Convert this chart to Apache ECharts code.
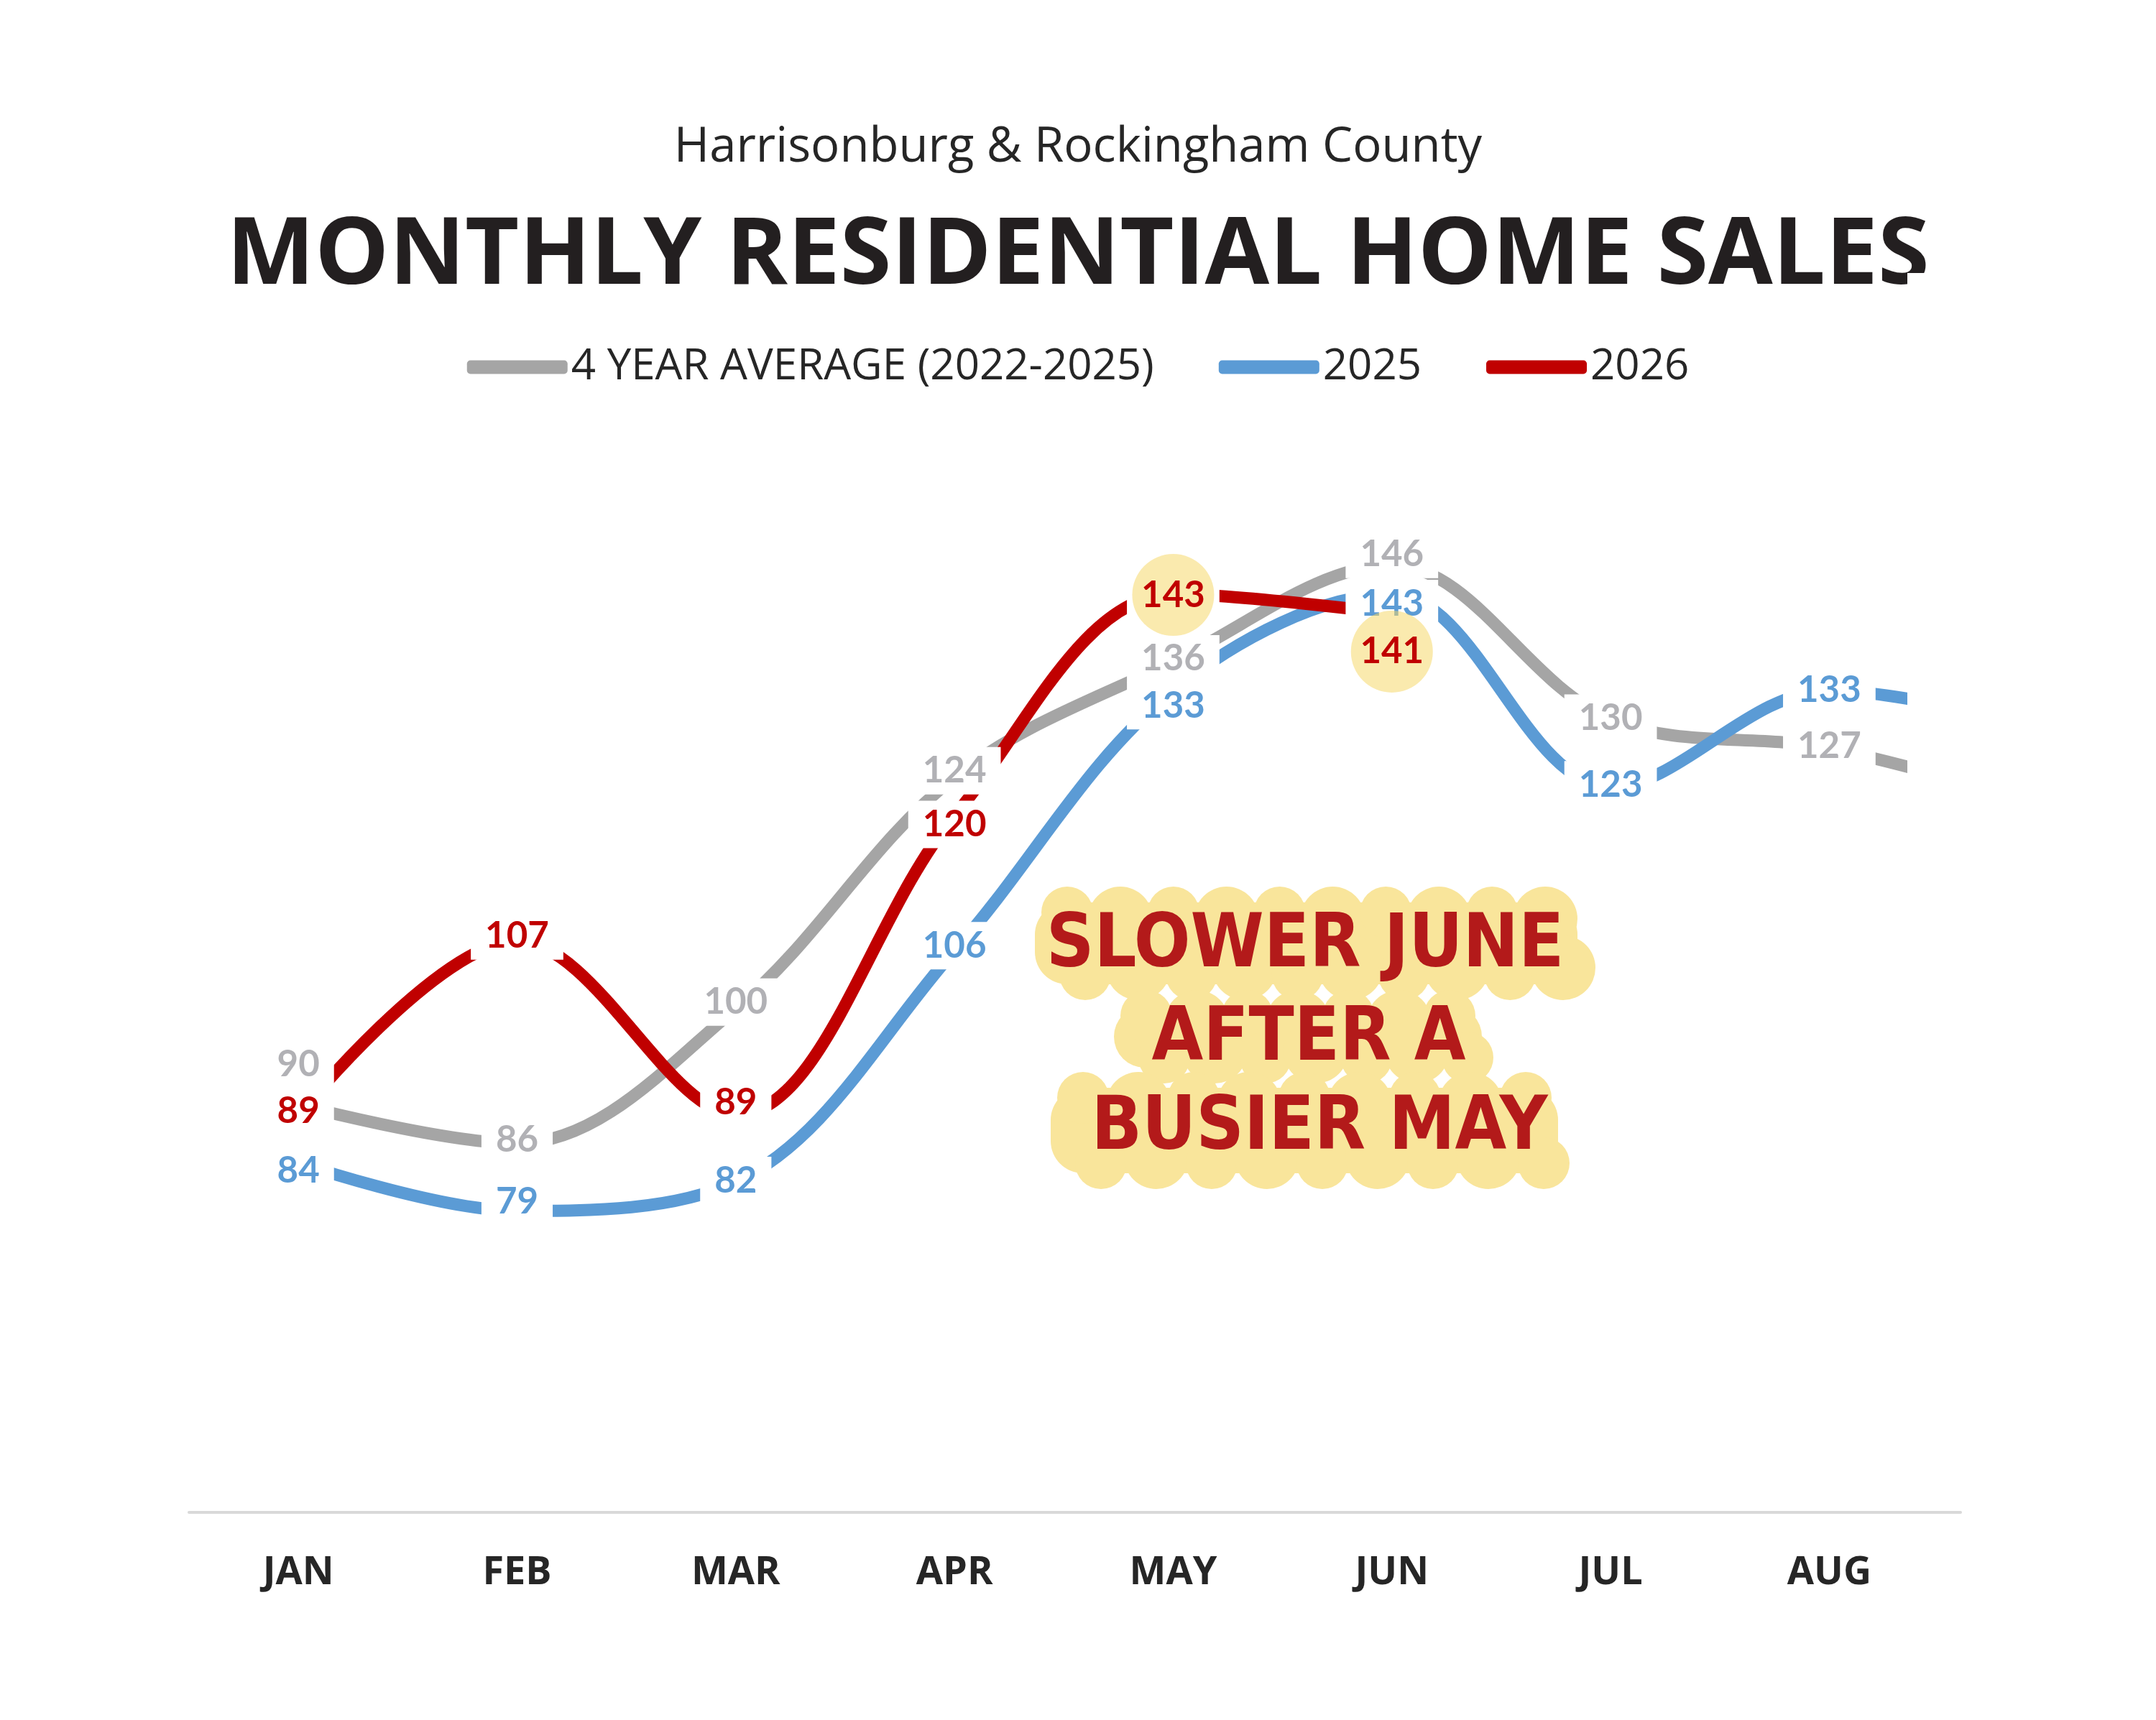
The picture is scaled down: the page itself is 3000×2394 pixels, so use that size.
<!DOCTYPE html>
<html>
<head>
<meta charset="utf-8">
<title>Monthly Residential Home Sales</title>
<script src="https://cdn.jsdelivr.net/npm/echarts@6.0.0/dist/echarts.min.js"></script>
<style>
  html, body { margin: 0; padding: 0; background: #fff; }
  #chart { width: 3000px; height: 2394px; }
</style>
</head>
<body>
<div id="chart"></div>
<script>
// months on the x axis (SEP only exists so the lines run off the right edge)
var months = ['JAN', 'FEB', 'MAR', 'APR', 'MAY', 'JUN', 'JUL', 'AUG', 'SEP'];
var avg4yr = [90, 86, 100, 124, 136, 146, 130, 127, 121];
var sales2025 = [84, 79, 82, 106, 133, 143, 123, 133, 129];
var sales2026 = [89, 107, 89, 120, 143, 141];

// label nudges in px - the labels were placed by hand in the original
var avgLabelDy = [-56, -5, -9, -9, -4, -15, -2, -3];
var y25LabelDy = [11, -13, -2, -7, 21, 13, -3, -1];
var y26LabelDy = [-5, -7, -17, 12, 1, 53];
// 2026 months that get the yellow circle
var highlight = [4, 5];

var GRAY = '#a5a5a5', BLUE = '#5b9bd5', RED = '#c00000';
var YELLOW = '#f9e59b';

function points(vals, dys, hidden) {
    return vals.map(function (v, i) {
        var item = { value: [i, v] };
        if (i < dys.length) {
            item.label = { offset: [0, dys[i]] };
            // text drawn by the highlight series instead, keep only the white box
            if (hidden && hidden.indexOf(i) >= 0) item.label.color = 'rgba(0,0,0,0)';
        } else {
            item.label = { show: false };
        }
        return item;
    });
}

function valueLabel(color) {
    return {
        show: true,
        position: 'inside',
        formatter: function (p) { return p.value[1]; },
        color: color,
        fontFamily: 'Lato',
        fontWeight: 'bold',
        fontSize: 51,
        lineHeight: 56,
        textBorderWidth: 0,
        backgroundColor: '#fff',
        padding: [5, 20]
    };
}

function lineSeries(name, color, labelColor, data) {
    return {
        name: name,
        type: 'line',
        data: data,
        smooth: 0.35,
        symbol: 'circle',
        symbolSize: 1,
        showSymbol: true,
        lineStyle: { color: color, width: 17, cap: 'butt' },
        itemStyle: { color: color },
        label: valueLabel(labelColor),
        emphasis: { disabled: true },
        silent: true
    };
}

// the scribbly yellow patch behind the note
function blob(x0, x1, y0, y1) {
    var els = [{
        type: 'rect',
        shape: { x: x0, y: y0 + 22, width: x1 - x0, height: y1 - y0 - 44, r: 45 },
        style: { fill: YELLOW }
    }];
    var n = Math.round((x1 - x0) / 85);
    for (var k = 0; k <= n; k++) {
        var cx = x0 + 45 + (x1 - x0 - 90) * k / n;
        var r = 36 + (k % 2) * 9;
        els.push({ type: 'circle', shape: { cx: cx, cy: y0 + r, r: r }, style: { fill: YELLOW } });
        els.push({ type: 'circle', shape: { cx: cx + 25, cy: y1 - r, r: r }, style: { fill: YELLOW } });
    }
    return els;
}

function note(text, x, y) {
    return {
        type: 'text',
        x: x,
        y: y,
        style: {
            text: text,
            font: 'bold 103px "DejaVu Sans Condensed", "DejaVu Sans", sans-serif',
            fill: '#b31a1a',
            textAlign: 'center',
            textVerticalAlign: 'middle',
            align: 'center',
            verticalAlign: 'middle'
        }
    };
}

var labelValues = [];
for (var i = 0; i < 8; i++) labelValues.push(i);

var graphics = []
    .concat(blob(1440, 2195, 1234, 1392))
    .concat(blob(1550, 2062, 1378, 1508))
    .concat(blob(1462, 2168, 1492, 1655));
graphics.push(note('SLOWER JUNE', 1816, 1318));
graphics.push(note('AFTER A', 1821, 1448));
graphics.push(note('BUSIER MAY', 1836, 1572));
// white panel that hides the lines after AUG
graphics.push({
    type: 'rect',
    z: 50,
    shape: { x: 2654, y: 380, width: 140, height: 1715 },
    style: { fill: '#fff' }
});

var myChart = echarts.init(document.getElementById('chart'));

var option = {
    animation: false,
    backgroundColor: '#fff',
    title: [{
        text: 'Harrisonburg & Rockingham County',
        left: 'center',
        top: 167,
        textStyle: { fontFamily: 'Open Sans', fontWeight: 'normal', fontSize: 67, color: '#262626' }
    }, {
        text: 'MONTHLY RESIDENTIAL HOME SALES',
        left: 'center',
        top: 288,
        textStyle: { fontFamily: 'Open Sans', fontWeight: 'bold', fontSize: 130, color: '#231f20' }
    }],
    legend: {
        data: ['4 YEAR AVERAGE (2022-2025)', '2025', '2026'],
        top: 476,
        left: 'center',
        icon: 'roundRect',
        itemWidth: 140,
        itemHeight: 19,
        itemGap: 90,
        selectedMode: false,
        textStyle: { fontFamily: 'Open Sans', fontSize: 60, color: '#262626' }
    },
    grid: { left: 263, right: 272, top: 465, bottom: 289, containLabel: false },
    xAxis: {
        type: 'value',
        min: -0.5,
        max: 7.6,
        axisLine: { show: true, onZero: false, lineStyle: { color: '#d9d9d9', width: 4 } },
        axisTick: { show: false },
        splitLine: { show: false },
        axisLabel: {
            customValues: labelValues,
            formatter: function (v) { return months[v]; },
            margin: 58,
            fontFamily: 'Open Sans',
            fontWeight: 'bold',
            fontSize: 54,
            color: '#262626'
        }
    },
    yAxis: {
        type: 'value',
        min: 47.7,
        max: 170,
        show: false
    },
    series: [
        lineSeries('4 YEAR AVERAGE (2022-2025)', GRAY, '#b1b1b5', points(avg4yr, avgLabelDy)),
        lineSeries('2025', BLUE, BLUE, points(sales2025, y25LabelDy)),
        lineSeries('2026', RED, RED, points(sales2026, y26LabelDy, highlight)),
        {
            // yellow circles go on their own layer so they sit over the label boxes
            name: 'highlight',
            type: 'scatter',
            zlevel: 1,
            silent: true,
            symbolSize: 114,
            itemStyle: { color: 'rgba(245,215,100,0.65)' },
            data: highlight.map(function (i) {
                return {
                    value: [i, sales2026[i]],
                    symbolOffset: [0, y26LabelDy[i]]
                };
            }),
            label: {
                show: true,
                position: 'inside',
                formatter: function (p) { return p.value[1]; },
                color: RED,
                textBorderWidth: 0,
                textBorderColor: 'transparent',
                opacity: 1,
                fontFamily: 'Lato',
                fontWeight: 'bold',
                fontSize: 51
            }
        }
    ],
    graphic: graphics
};

myChart.setOption(option);
</script>
</body>
</html>
